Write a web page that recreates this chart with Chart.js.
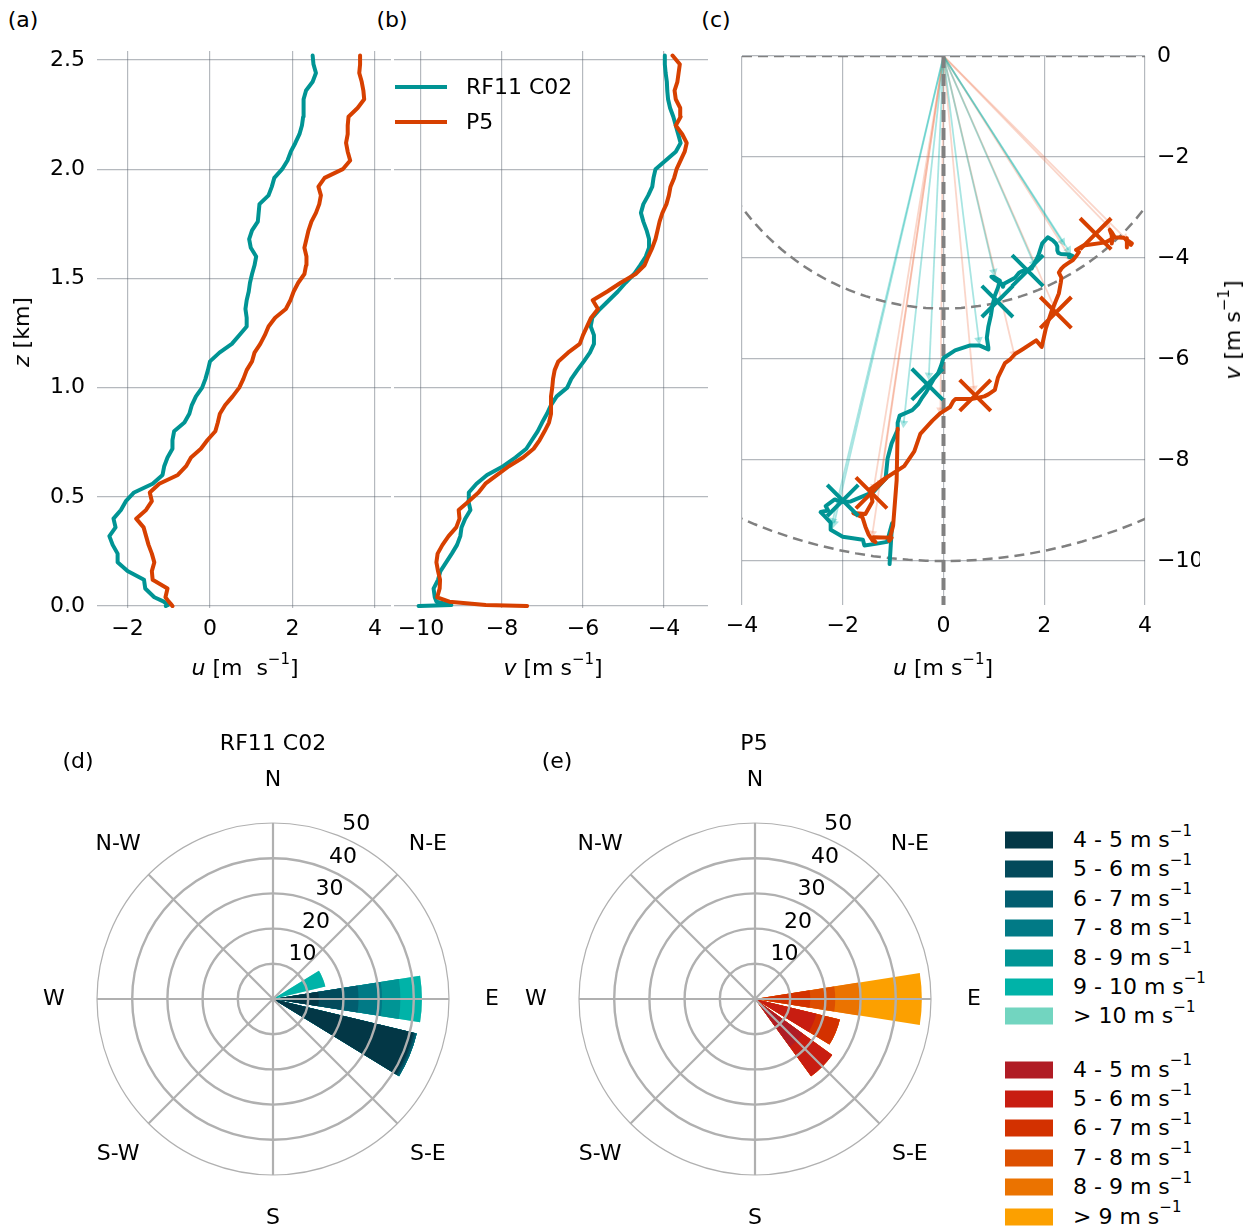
<!DOCTYPE html>
<html>
<head>
<meta charset="utf-8">
<script src="https://cdn.jsdelivr.net/npm/chart.js@4.4.1/dist/chart.umd.min.js"></script>
<style>
  body { margin: 0; width: 1253px; height: 1227px; overflow: hidden; background: #fff; position: relative;
         font-family: "DejaVu Sans", sans-serif; color: #000; }
  canvas { position: absolute; }
  .t { position: absolute; font-size: 22px; white-space: nowrap; line-height: 1; transform: translate(-50%, -50%); }
  .l { position: absolute; font-size: 22px; white-space: nowrap; line-height: 1; transform: translate(0, -50%); }
  .rot { transform: translate(-50%, -50%) rotate(-90deg); }
  sup { font-size: 15px; position: relative; top: -3px; line-height: 0; }
  .sw { position: absolute; width: 48px; height: 17px; transform: translate(0, -50%); }
  .ln { position: absolute; width: 52px; height: 4px; transform: translate(0, -50%); }
</style>
</head>
<body>
<canvas id="cA" width="395" height="620" style="left:0;top:40px"></canvas>
<canvas id="cB" width="320" height="620" style="left:392px;top:40px"></canvas>
<canvas id="cC" width="533" height="620" style="left:720px;top:40px"></canvas>
<canvas id="cD" width="500" height="500" style="left:23px;top:749px"></canvas>
<canvas id="cE" width="500" height="500" style="left:505px;top:749px"></canvas>

<div class="t" style="left:23px;top:20px">(a)</div>
<div class="t" style="left:392px;top:20px">(b)</div>
<div class="t" style="left:716px;top:20px">(c)</div>
<div class="t" style="left:78px;top:761px">(d)</div>
<div class="t" style="left:557px;top:761px">(e)</div>
<div class="t" style="left:273px;top:743px">RF11 C02</div>
<div class="t" style="left:754px;top:743px">P5</div>

<div class="t" style="left:245px;top:668px"><i>u</i> [m&nbsp;&nbsp;s<sup>&minus;1</sup>]</div>
<div class="t" style="left:553px;top:668px"><i>v</i> [m s<sup>&minus;1</sup>]</div>
<div class="t" style="left:943px;top:668px"><i>u</i> [m s<sup>&minus;1</sup>]</div>
<div class="t rot" style="left:22px;top:332px"><i>z</i> [km]</div>
<div class="t rot" style="left:1233px;top:330px"><i>v</i> [m s<sup>&minus;1</sup>]</div>

<div id="lineLegend"></div>
<div id="roseLegend"></div>

<script>
// heights [km] shared by both profiles
const heights = [0, 0.005, 0.02, 0.04, 0.08, 0.12, 0.16, 0.2, 0.24, 0.28, 0.32, 0.36, 0.4, 0.44, 0.48,
  0.52, 0.56, 0.6, 0.64, 0.68, 0.72, 0.76, 0.8, 0.84, 0.88, 0.92, 0.96, 1.0, 1.04, 1.08, 1.12, 1.16,
  1.2, 1.24, 1.28, 1.32, 1.36, 1.4, 1.44, 1.48, 1.52, 1.56, 1.6, 1.64, 1.68, 1.72, 1.76, 1.8, 1.84,
  1.88, 1.92, 1.96, 2.0, 2.04, 2.08, 2.12, 2.16, 2.2, 2.24, 2.28, 2.32, 2.36, 2.4, 2.44, 2.48, 2.52];

// RF11 C02 wind components [m/s]
const rf11U = [-1.07, -1.02, -1.12, -1.35, -1.57, -1.6, -2.0, -2.24, -2.24, -2.36, -2.44, -2.29, -2.34,
  -2.16, -2.04, -1.84, -1.39, -1.15, -1.11, -1.03, -0.91, -0.91, -0.87, -0.62, -0.5, -0.44, -0.34,
  -0.19, -0.11, -0.05, 0.0, 0.23, 0.53, 0.71, 0.89, 0.89, 0.86, 0.89, 0.94, 0.97, 1.02, 1.08, 1.12,
  0.99, 0.95, 1.02, 1.16, 1.18, 1.2, 1.42, 1.5, 1.56, 1.75, 1.88, 1.96, 2.07, 2.17, 2.23, 2.26, 2.26,
  2.28, 2.33, 2.49, 2.57, 2.51, 2.49];
const rf11V = [-10.06, -9.25, -9.62, -9.66, -9.69, -9.58, -9.52, -9.38, -9.24, -9.11, -9.03, -9.0,
  -8.91, -8.78, -8.83, -8.82, -8.63, -8.37, -7.97, -7.67, -7.4, -7.26, -7.12, -7.01, -6.89, -6.79,
  -6.65, -6.39, -6.29, -6.14, -5.98, -5.83, -5.73, -5.73, -5.81, -5.77, -5.58, -5.36, -5.14, -4.95,
  -4.74, -4.59, -4.45, -4.37, -4.37, -4.43, -4.51, -4.57, -4.51, -4.39, -4.29, -4.26, -4.21, -3.96,
  -3.71, -3.59, -3.65, -3.71, -3.77, -3.85, -3.9, -3.92, -3.93, -3.96, -3.98, -3.98];

// P5 wind components [m/s]
const p5U = [-0.91, -0.93, -1.0, -1.08, -1.03, -1.39, -1.41, -1.35, -1.41, -1.49, -1.55, -1.61, -1.79,
  -1.55, -1.41, -1.46, -1.23, -0.78, -0.58, -0.46, -0.22, -0.06, 0.13, 0.19, 0.24, 0.37, 0.55, 0.71,
  0.81, 0.89, 1.02, 1.08, 1.22, 1.33, 1.42, 1.58, 1.84, 1.95, 2.03, 2.14, 2.29, 2.33, 2.34, 2.29, 2.34,
  2.39, 2.46, 2.57, 2.65, 2.69, 2.63, 2.78, 3.22, 3.4, 3.34, 3.3, 3.34, 3.34, 3.36, 3.58, 3.74, 3.72,
  3.68, 3.62, 3.64, 3.64];
const p5V = [-7.38, -8.4, -9.3, -9.6, -9.54, -9.53, -9.58, -9.62, -9.59, -9.47, -9.32, -9.13, -9.05,
  -9.07, -8.82, -8.58, -8.41, -8.12, -7.83, -7.48, -7.22, -7.07, -6.95, -6.84, -6.79, -6.79, -6.79,
  -6.76, -6.74, -6.7, -6.61, -6.37, -6.08, -6.0, -5.9, -5.8, -5.63, -5.76, -5.4, -5.07, -4.7, -4.48,
  -4.39, -4.29, -4.21, -4.16, -4.11, -4.04, -3.94, -3.88, -3.84, -3.75, -3.69, -3.59, -3.49, -3.44,
  -3.55, -3.71, -3.59, -3.6, -3.71, -3.74, -3.67, -3.64, -3.61, -3.79];

// crosses on the hodograph (u, v)
const rf11CrossU = [-2.0, -0.32, 1.07, 1.67];
const rf11CrossV = [-8.8, -6.5, -4.86, -4.25];
const p5CrossU = [-1.43, 0.63, 2.23, 3.02];
const p5CrossV = [-8.65, -6.72, -5.08, -3.52];

// arrow tips from the origin (u, v)
const rf11ArrowU = [-2.17, -2.2, -0.79, -0.29, 0.7, 1.0, 1.79, 2.36, 2.48];
const rf11ArrowV = [-9.25, -9.2, -7.27, -6.32, -5.62, -4.27, -4.1, -3.68, -3.84];
const p5ArrowU = [-1.41, -1.38, -1.25, -0.06, 0.6, 1.4, 2.19, 2.52, 3.25, 3.6];
const p5ArrowV = [-9.45, -8.53, -8.45, -7.01, -6.58, -5.89, -4.96, -4.0, -3.35, -3.6];

// constant speed rings [m/s]
const speedRings = [5, 10];

// tick values
const zTicks = [0, 0.5, 1.0, 1.5, 2.0, 2.5];
const uTicksA = [-2, 0, 2, 4];
const vTicksB = [-10, -8, -6, -4];
const uTicksC = [-4, -2, 0, 2, 4];
const vTicksC = [0, -2, -4, -6, -8, -10];

// wind roses: frequency [%] per speed bin, 16 directions clockwise from N
const compass = ['N', 'N-E', 'E', 'S-E', 'S', 'S-W', 'W', 'N-W'];
const ringTicks = [10, 20, 30, 40, 50];
const rf11Bins = ['4 - 5', '5 - 6', '6 - 7', '7 - 8', '8 - 9', '9 - 10', '> 10'];
const rf11Bin45  = [0, 0, 0, 0, 13.0, 41.0, 0, 0, 0, 0, 0, 0, 0, 0, 0, 0];
const rf11Bin56  = [0, 0, 0, 0, 6.6, 0.5, 0, 0, 0, 0, 0, 0, 0, 0, 0, 0];
const rf11Bin67  = [0, 0, 0, 0, 4.7, 0.5, 0, 0, 0, 0, 0, 0, 0, 0, 0, 0];
const rf11Bin78  = [0, 0, 0, 0, 6.7, 0, 0, 0, 0, 0, 0, 0, 0, 0, 0, 0];
const rf11Bin89  = [0, 0, 0, 0, 5.2, 0, 0, 0, 0, 0, 0, 0, 0, 0, 0, 0];
const rf11Bin910 = [0, 0, 0, 15.3, 6.1, 0, 0, 0, 0, 0, 0, 0, 0, 0, 0, 0];
const rf11Bin10  = [0, 0, 0, 0, 0, 0, 0, 0, 0, 0, 0, 0, 0, 0, 0, 0];
const p5Bins = ['4 - 5', '5 - 6', '6 - 7', '7 - 8', '8 - 9', '> 9'];
const p5Bin45 = [0, 0, 0, 0, 0, 0, 16.8, 0, 0, 0, 0, 0, 0, 0, 0, 0];
const p5Bin56 = [0, 0, 0, 0, 0, 17.9, 10.3, 0, 0, 0, 0, 0, 0, 0, 0, 0];
const p5Bin67 = [0, 0, 0, 0, 15.7, 6.9, 0, 0, 0, 0, 0, 0, 0, 0, 0, 0];
const p5Bin78 = [0, 0, 0, 0, 7.1, 0, 0, 0, 0, 0, 0, 0, 0, 0, 0, 0];
const p5Bin89 = [0, 0, 0, 0, 7.4, 0, 0, 0, 0, 0, 0, 0, 0, 0, 0, 0];
const p5Bin9  = [0, 0, 0, 0, 17.2, 0, 0, 0, 0, 0, 0, 0, 0, 0, 0, 0];

const teal = '#009494';
const orange = '#d74000';
const tealRamp = ['#033746', '#034a5b', '#025e70', '#017a86', '#009595', '#00b3a8', '#72d5c0'];
const redRamp = ['#b01c25', '#c81d11', '#d33100', '#dd4f00', '#eb7300', '#fca000'];
const gridColor = 'rgba(90, 100, 110, 0.45)';

Chart.defaults.font.family = '"DejaVu Sans", sans-serif';
Chart.defaults.font.size = 22;
Chart.defaults.color = '#000';
Chart.defaults.animation = false;

function fmt(v, d) {
  return (v < 0 ? '\u2212' : '') + Math.abs(v).toFixed(d);
}
function fixedTicks(values) {
  return axis => { axis.ticks = values.map(v => ({ value: v })); };
}
// fix an axis' thickness and drop the label overhang padding
function fixSize(prop, size) {
  return s => {
    s[prop] = size;
    s.paddingTop = 0; s.paddingBottom = 0; s.paddingLeft = 0; s.paddingRight = 0;
  };
}
function lineSet(xs, ys, color) {
  return {
    data: xs.map((x, i) => ({ x: x, y: ys[i] })),
    showLine: true, borderColor: color, borderWidth: 4, pointRadius: 0,
    borderJoinStyle: 'round', borderCapStyle: 'round'
  };
}
function axisGrid() {
  return { color: gridColor, lineWidth: 1.2, drawTicks: false };
}
const basePlugins = { legend: { display: false }, tooltip: { enabled: false } };

// (a) u profile
new Chart(document.getElementById('cA'), {
  type: 'scatter',
  data: { datasets: [lineSet(p5U, heights, orange), lineSet(rf11U, heights, teal)] },
  options: {
    responsive: false,
    layout: { autoPadding: false, padding: { left: 0, top: 11, right: 4, bottom: 0 } },
    plugins: basePlugins,
    scales: {
      x: { type: 'linear', min: -2.74, max: 4.39, afterBuildTicks: fixedTicks(uTicksA),
           afterFit: fixSize('height', 52), grid: axisGrid(), border: { display: false },
           ticks: { padding: 8, callback: v => fmt(v, 0) } },
      y: { type: 'linear', min: -0.009, max: 2.541, afterBuildTicks: fixedTicks(zTicks),
           afterFit: fixSize('width', 97), grid: axisGrid(), border: { display: false },
           ticks: { padding: 12, callback: v => v.toFixed(1) } }
    }
  }
});

// (b) v profile
new Chart(document.getElementById('cB'), {
  type: 'scatter',
  data: { datasets: [lineSet(p5V, heights, orange), lineSet(rf11V, heights, teal)] },
  options: {
    responsive: false,
    layout: { autoPadding: false, padding: { left: 0, top: 11, right: 4, bottom: 0 } },
    plugins: basePlugins,
    scales: {
      x: { type: 'linear', min: -10.667, max: -2.914, afterBuildTicks: fixedTicks(vTicksB),
           afterFit: fixSize('height', 52), grid: axisGrid(), border: { display: false },
           ticks: { padding: 8, callback: v => fmt(v, 0) } },
      y: { type: 'linear', min: -0.009, max: 2.541, afterBuildTicks: fixedTicks(zTicks),
           afterFit: fixSize('width', 2), grid: axisGrid(), border: { display: false },
           ticks: { display: false } }
    }
  }
});

// (c) hodograph
function pixelAngle(chart, u, v) {
  const xs = chart.scales.x, ys = chart.scales.y;
  const dx = xs.getPixelForValue(u) - xs.getPixelForValue(0);
  const dy = ys.getPixelForValue(v) - ys.getPixelForValue(0);
  return Math.atan2(dx, -dy) * 180 / Math.PI;
}
function arrowSets(us, vs, color) {
  return us.map((u, i) => ({
    data: [{ x: 0, y: 0 }, { x: u, y: vs[i] }],
    showLine: true, borderColor: color, borderWidth: 1.8,
    pointRadius: [0, 5], pointStyle: 'triangle', pointBorderWidth: 0,
    pointBackgroundColor: color,
    rotation: ctx => pixelAngle(ctx.chart, u, vs[i])
  }));
}
function ringSet(r) {
  const pts = [];
  for (let a = 0; a <= 360; a += 2) {
    const t = a * Math.PI / 180;
    pts.push({ x: r * Math.cos(t), y: r * Math.sin(t) });
  }
  return { data: pts, showLine: true, borderColor: '#808080', borderWidth: 2.5,
           borderDash: [10, 6], pointRadius: 0 };
}
function crossSet(us, vs, color) {
  return { data: us.map((u, i) => ({ x: u, y: vs[i] })), pointStyle: 'crossRot',
           pointRadius: 22, pointBorderWidth: 4, pointBorderColor: color, showLine: false };
}
const hodoSets = [
  crossSet(p5CrossU, p5CrossV, orange),
  crossSet(rf11CrossU, rf11CrossV, teal),
  lineSet(p5U, p5V, orange),
  lineSet(rf11U, rf11V, teal),
  { data: [{ x: 0, y: 0 }, { x: 0, y: -11 }], showLine: true, borderColor: '#808080',
    borderWidth: 4, borderDash: [12, 6], pointRadius: 0 },
  { data: [{ x: -4, y: 0 }, { x: 4, y: 0 }], showLine: true, borderColor: '#808080',
    borderWidth: 2.5, borderDash: [10, 6], pointRadius: 0 },
  ...speedRings.map(ringSet),
  ...arrowSets(rf11ArrowU, rf11ArrowV, 'rgba(0, 180, 170, 0.34)'),
  ...arrowSets(p5ArrowU, p5ArrowV, 'rgba(240, 120, 80, 0.3)')
];
new Chart(document.getElementById('cC'), {
  type: 'scatter',
  data: { datasets: hodoSets },
  options: {
    responsive: false,
    layout: { autoPadding: false, padding: { left: 22, top: 16, right: 53, bottom: 0 } },
    plugins: basePlugins,
    scales: {
      x: { type: 'linear', min: -4, max: 4, afterBuildTicks: fixedTicks(uTicksC),
           afterFit: fixSize('height', 55), grid: axisGrid(), border: { display: false },
           ticks: { padding: 8, callback: v => fmt(v, 0) } },
      y: { type: 'linear', position: 'right', min: -10.87, max: 0, afterBuildTicks: fixedTicks(vTicksC),
           afterFit: fixSize('width', 55), grid: axisGrid(), border: { display: false },
           ticks: { padding: 12, callback: v => fmt(v, 0) } }
    }
  }
});

// wind roses
const barAngle = 18, gapAngle = 4.5;
const roseAngles = [barAngle / 2];
for (let d = 1; d < 16; d++) roseAngles.push(gapAngle, barAngle);
roseAngles.push(gapAngle, barAngle / 2);

function spread(vals) {
  // split the N bar in two halves so the sequence starts at north
  const out = [vals[0]];
  for (let d = 1; d < 16; d++) out.push(0, vals[d]);
  out.push(0, vals[0]);
  return out;
}
const roseText = {
  id: 'roseText',
  afterDraw(chart) {
    const r = chart.scales.r;
    const c = chart.ctx;
    c.save();
    c.font = '22px "DejaVu Sans", sans-serif';
    c.fillStyle = '#000';
    c.textAlign = 'center';
    c.textBaseline = 'middle';
    compass.forEach((lab, i) => {
      const p = r.getPointPosition(i, r.drawingArea + 43);
      c.fillText(lab, p.x, p.y);
    });
    c.textAlign = 'left';
    c.textBaseline = 'bottom';
    const a = 22.5 * Math.PI / 180;
    ringTicks.forEach(v => {
      const d = r.getDistanceFromCenterForValue(v);
      c.fillText(String(v), r.xCenter + d * Math.sin(a) + 2, r.yCenter - d * Math.cos(a) - 1);
    });
    c.restore();
  }
};
function roseChart(id, bins, colors) {
  let run = new Array(16).fill(0);
  const datasets = bins.map((b, k) => {
    run = run.map((v, i) => v + b[i]);
    return { data: spread(run), backgroundColor: colors[k], borderWidth: 0,
             angle: ctx => roseAngles[ctx.dataIndex] };
  });
  new Chart(document.getElementById(id), {
    type: 'polarArea',
    data: { datasets: datasets },
    options: {
      responsive: false,
      layout: { padding: 74 },
      plugins: basePlugins,
      scales: {
        r: {
          labels: compass, startAngle: 0, min: 0, max: 50,
          ticks: { display: false, stepSize: 10 },
          pointLabels: { display: false },
          angleLines: { display: true, color: '#b0b0b0', lineWidth: 2.2 },
          grid: { circular: true, color: '#b0b0b0', z: 1,
                  lineWidth: ctx => (ctx.tick && ctx.tick.value === 50 ? 1.2 : 2.4) }
        }
      }
    },
    plugins: [roseText]
  });
}
roseChart('cD', [rf11Bin45, rf11Bin56, rf11Bin67, rf11Bin78, rf11Bin89, rf11Bin910, rf11Bin10], tealRamp);
roseChart('cE', [p5Bin45, p5Bin56, p5Bin67, p5Bin78, p5Bin89, p5Bin9], redRamp);

// legends
const lineLegend = document.getElementById('lineLegend');
[['RF11 C02', teal, 87], ['P5', orange, 122]].forEach(([name, col, y]) => {
  lineLegend.insertAdjacentHTML('beforeend',
    `<div class="ln" style="left:395px;top:${y}px;background:${col}"></div>` +
    `<div class="l" style="left:466px;top:${y}px">${name}</div>`);
});
const roseLegend = document.getElementById('roseLegend');
const rowGap = 29.4;
function legendRows(names, colors, y0) {
  names.forEach((n, i) => {
    const y = y0 + i * rowGap;
    roseLegend.insertAdjacentHTML('beforeend',
      `<div class="sw" style="left:1005px;top:${y}px;background:${colors[i]}"></div>` +
      `<div class="l" style="left:1073px;top:${y}px">${n} m s<sup>&minus;1</sup></div>`);
  });
}
legendRows(rf11Bins, tealRamp, 840);
legendRows(p5Bins, redRamp, 1069.5);
</script>
</body>
</html>
